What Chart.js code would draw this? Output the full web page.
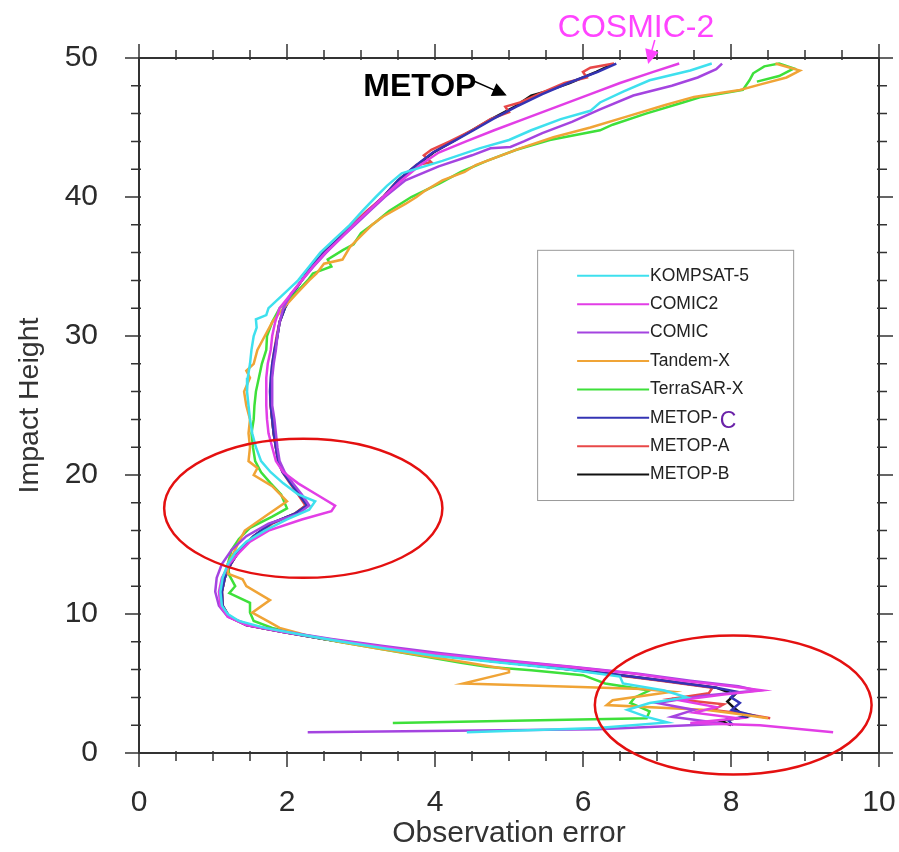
<!DOCTYPE html>
<html>
<head>
<meta charset="utf-8">
<title>Observation error by impact height</title>
<script src="https://cdn.jsdelivr.net/npm/chart.js@4.4.0/dist/chart.umd.min.js"></script>
<style>
  html, body { margin: 0; padding: 0; background: #fff; }
</style>
</head>
<body>
<canvas id="errChart" width="899" height="852"></canvas>
<script>
// observation error (x) against impact height (y, km) for each mission
var kompErr = [7.74, 7.45, 6.9, 6.55, 6.23, 6.1, 5.7, 5.3, 5.0, 4.6, 4.1, 3.55, 3.35, 3.2, 3.02, 2.85, 2.65, 2.45, 2.3, 2.15, 1.95, 1.75, 1.72, 1.58, 1.59, 1.55, 1.52, 1.5, 1.47, 1.46, 1.48, 1.5, 1.53, 1.58, 1.65, 1.78, 1.95, 2.15, 2.38, 2.3, 2.0, 1.7, 1.45, 1.3, 1.2, 1.13, 1.1, 1.12, 1.2, 1.35, 1.7, 2.2, 2.75, 3.35, 4.0, 4.9, 5.8, 6.5, 6.54, 7.1, 7.4, 6.9, 6.6, 6.86, 7.14, 6.2, 4.43];
var kompHgt = [49.6, 49.1, 48.4, 47.6, 46.8, 46.2, 45.6, 44.8, 44.1, 43.5, 42.6, 41.7, 40.8, 40.0, 39.0, 38.0, 37.0, 36.0, 35.0, 34.0, 33.0, 32.0, 31.5, 31.2, 30.6, 30.0, 29.0, 28.0, 27.0, 26.0, 25.0, 24.0, 23.0, 22.0, 21.0, 20.2, 19.4, 18.6, 18.1, 17.5, 16.8, 16.0, 15.2, 14.4, 13.6, 12.6, 11.6, 10.6, 10.0, 9.5, 9.0, 8.5, 8.0, 7.5, 7.0, 6.5, 6.0, 5.5, 5.0, 4.5, 4.0, 3.6, 3.1, 2.6, 2.2, 1.8, 1.5];

var comic2Err = [7.3, 6.95, 6.5, 6.1, 5.65, 5.2, 4.8, 4.42, 4.05, 3.8, 3.55, 3.3, 3.1, 2.9, 2.72, 2.52, 2.35, 2.2, 2.05, 1.9, 1.84, 1.8, 1.78, 1.74, 1.72, 1.72, 1.72, 1.73, 1.75, 1.8, 1.85, 1.95, 2.15, 2.4, 2.65, 2.6, 2.2, 1.75, 1.5, 1.35, 1.22, 1.12, 1.08, 1.1, 1.2, 1.45, 1.95, 2.55, 3.2, 3.9, 4.8, 5.8, 6.7, 7.35, 8.0, 8.42, 7.9, 7.3, 7.8, 7.5, 8.1, 7.45, 8.39, 9.38];
var comic2Hgt = [49.6, 49.0, 48.2, 47.4, 46.5, 45.6, 44.8, 44.0, 43.2, 42.3, 41.2, 40.0, 39.0, 38.0, 37.0, 36.0, 35.0, 34.0, 33.0, 32.0, 31.0, 30.0, 29.0, 28.0, 27.0, 26.0, 25.0, 24.0, 23.0, 22.0, 21.0, 20.2, 19.4, 18.6, 17.8, 17.4, 16.8, 16.0, 15.2, 14.4, 13.6, 12.6, 11.6, 10.6, 9.8, 9.2, 8.7, 8.2, 7.7, 7.2, 6.7, 6.2, 5.7, 5.2, 4.8, 4.5, 4.2, 3.8, 3.3, 2.9, 2.5, 2.15, 2.0, 1.5];

var comicErr = [7.88, 7.8, 7.55, 7.2, 6.68, 6.23, 5.85, 5.45, 5.2, 5.02, 4.75, 4.5, 4.05, 3.6, 3.32, 3.12, 2.92, 2.72, 2.53, 2.36, 2.2, 2.05, 1.95, 1.9, 1.87, 1.85, 1.82, 1.8, 1.8, 1.8, 1.83, 1.85, 1.87, 1.9, 1.97, 2.08, 2.2, 2.3, 2.15, 1.75, 1.45, 1.25, 1.12, 1.05, 1.03, 1.08, 1.2, 1.5, 2.0, 2.6, 3.3, 4.05, 4.9, 5.85, 6.75, 7.45, 8.1, 8.35, 7.6, 7.0, 7.5, 7.2, 7.9, 6.2, 2.28];
var comicHgt = [49.6, 49.2, 48.6, 48.0, 47.3, 46.3, 45.4, 44.6, 44.0, 43.6, 43.5, 43.0, 42.2, 41.2, 40.0, 39.0, 38.0, 37.0, 36.0, 35.0, 34.0, 33.0, 32.0, 31.0, 30.0, 29.0, 28.0, 27.0, 26.0, 25.0, 24.0, 23.0, 22.0, 21.0, 20.2, 19.4, 18.6, 17.8, 17.2, 16.5, 15.6, 14.6, 13.6, 12.6, 11.6, 10.6, 9.8, 9.2, 8.7, 8.2, 7.7, 7.2, 6.7, 6.2, 5.7, 5.2, 4.8, 4.5, 4.1, 3.6, 3.1, 2.6, 2.1, 1.7, 1.5];

var tandemErr = [8.6, 8.93, 8.75, 8.4, 8.12, 7.5, 7.1, 6.6, 6.1, 5.6, 5.15, 4.8, 4.55, 4.4, 4.1, 3.85, 3.75, 3.6, 3.3, 3.15, 3.0, 2.85, 2.75, 2.5, 2.4, 2.3, 2.12, 1.95, 1.8, 1.7, 1.6, 1.55, 1.45, 1.5, 1.42, 1.45, 1.5, 1.48, 1.5, 1.48, 1.6, 1.55, 1.8, 2.0, 1.75, 1.43, 1.35, 1.28, 1.2, 1.2, 1.4, 1.45, 1.77, 1.53, 1.77, 1.9, 2.25, 2.7, 3.25, 3.85, 4.45, 5.0, 5.0, 4.38, 5.96, 6.8, 7.2, 6.4, 6.32, 7.68, 8.1, 8.5];
var tandemHgt = [49.6, 49.1, 48.6, 48.1, 47.7, 47.2, 46.6, 45.8, 45.0, 44.3, 43.5, 42.8, 42.3, 41.8, 41.2, 40.4, 40.0, 39.5, 38.6, 38.0, 37.2, 36.4, 35.5, 35.2, 34.5, 34.0, 33.0, 32.0, 31.0, 30.0, 29.0, 28.0, 27.5, 27.0, 26.0, 25.0, 24.0, 23.0, 22.0, 21.0, 20.5, 20.0, 19.2, 18.1, 17.2, 16.0, 15.2, 14.4, 13.6, 12.9, 12.5, 12.0, 11.0, 10.1, 9.4, 9.0, 8.5, 8.0, 7.5, 7.0, 6.5, 6.0, 5.8, 5.0, 4.75, 4.6, 4.4, 3.8, 3.45, 3.1, 2.8, 2.5];

var terraErr = [8.35, 8.65, 8.85, 8.65, 8.45, 8.3, 8.25, 8.16, 7.6, 7.35, 6.85, 6.4, 6.23, 5.55, 5.1, 4.7, 4.35, 4.07, 3.68, 3.38, 3.2, 3.0, 2.9, 2.76, 2.55, 2.6, 2.35, 2.28, 2.1, 1.9, 1.8, 1.73, 1.72, 1.66, 1.62, 1.58, 1.56, 1.55, 1.52, 1.54, 1.57, 1.65, 1.78, 1.92, 2.0, 1.8, 1.5, 1.35, 1.25, 1.2, 1.22, 1.3, 1.22, 1.5, 1.5, 1.55, 1.8, 2.2, 2.7, 3.25, 3.8, 4.35, 4.7, 5.3, 6.0, 6.3, 6.9, 6.7, 6.64, 6.9, 6.86, 3.43];
var terraHgt = [48.3, 48.7, 49.25, 49.6, 49.4, 48.9, 48.4, 47.7, 47.2, 46.8, 46.0, 45.2, 44.8, 44.1, 43.4, 42.6, 41.8, 41.0, 40.0, 39.0, 38.2, 37.4, 36.6, 36.2, 35.5, 35.0, 34.5, 34.0, 33.0, 32.0, 31.0, 30.0, 29.0, 28.0, 27.0, 26.0, 25.0, 24.0, 23.0, 22.0, 21.0, 20.2, 19.4, 18.6, 17.6, 17.0, 16.2, 15.4, 14.6, 13.6, 12.8, 12.0, 11.5, 10.8, 10.1, 9.5, 9.0, 8.5, 8.0, 7.5, 7.0, 6.5, 6.2, 5.95, 5.6, 5.0, 4.5, 4.0, 3.6, 3.0, 2.5, 2.15];

var metopCErr = [6.45, 6.2, 5.8, 5.45, 5.1, 4.78, 4.52, 4.25, 3.97, 3.75, 3.5, 3.3, 3.1, 2.9, 2.7, 2.5, 2.33, 2.2, 2.07, 1.97, 1.9, 1.87, 1.83, 1.8, 1.78, 1.77, 1.78, 1.8, 1.82, 1.85, 1.88, 1.94, 2.05, 2.16, 2.27, 2.1, 1.78, 1.55, 1.36, 1.24, 1.16, 1.12, 1.13, 1.22, 1.45, 1.95, 2.5, 3.1, 3.75, 4.6, 5.5, 6.35, 7.1, 7.8, 8.08, 8.0, 8.12, 8.01, 8.3, 7.95, 8.03];
var metopCHgt = [49.6, 49.0, 48.2, 47.4, 46.5, 45.6, 44.8, 44.0, 43.2, 42.3, 41.2, 40.0, 39.0, 38.0, 37.0, 36.0, 35.0, 34.0, 33.0, 32.0, 31.0, 30.0, 29.0, 28.0, 27.0, 26.0, 25.0, 24.0, 23.0, 22.0, 21.0, 20.2, 19.4, 18.6, 17.8, 17.2, 16.5, 15.6, 14.6, 13.6, 12.6, 11.6, 10.6, 9.8, 9.2, 8.7, 8.2, 7.7, 7.2, 6.7, 6.2, 5.7, 5.2, 4.7, 4.4, 4.0, 3.6, 3.1, 2.7, 2.4, 2.0];

var metopAErr = [6.42, 6.1, 6.0, 6.05, 5.75, 5.4, 5.15, 4.95, 5.0, 4.75, 4.5, 4.2, 3.95, 3.85, 3.95, 3.75, 3.5, 3.3, 3.08, 2.88, 2.7, 2.5, 2.33, 2.2, 2.06, 1.96, 1.9, 1.86, 1.83, 1.8, 1.79, 1.78, 1.78, 1.8, 1.82, 1.85, 1.88, 1.94, 2.04, 2.15, 2.25, 2.1, 1.8, 1.55, 1.36, 1.24, 1.16, 1.12, 1.13, 1.22, 1.45, 1.95, 2.5, 3.1, 3.75, 4.6, 5.5, 6.3, 7.05, 7.75, 7.7, 7.2, 7.9, 7.76, 8.2, 8.53];
var metopAHgt = [49.6, 49.3, 49.0, 48.6, 48.2, 47.4, 46.8, 46.5, 46.1, 45.6, 44.8, 44.0, 43.4, 43.0, 42.5, 42.3, 41.2, 40.0, 39.0, 38.0, 37.0, 36.0, 35.0, 34.0, 33.0, 32.0, 31.0, 30.0, 29.0, 28.0, 27.0, 26.0, 25.0, 24.0, 23.0, 22.0, 21.0, 20.2, 19.4, 18.6, 17.8, 17.2, 16.5, 15.6, 14.6, 13.6, 12.6, 11.6, 10.6, 9.8, 9.2, 8.7, 8.2, 7.7, 7.2, 6.7, 6.2, 5.7, 5.2, 4.7, 4.3, 3.9, 3.5, 3.1, 2.8, 2.5];

var metopBErr = [6.38, 6.18, 5.82, 5.5, 5.3, 5.08, 4.76, 4.5, 4.24, 3.98, 3.76, 3.5, 3.3, 3.1, 2.9, 2.7, 2.5, 2.33, 2.2, 2.07, 1.97, 1.9, 1.87, 1.84, 1.81, 1.79, 1.78, 1.78, 1.8, 1.82, 1.85, 1.88, 1.95, 2.06, 2.17, 2.26, 2.1, 1.78, 1.55, 1.36, 1.24, 1.16, 1.12, 1.13, 1.22, 1.45, 1.95, 2.5, 3.1, 3.75, 4.6, 5.5, 6.35, 7.1, 7.8, 8.05, 7.95, 8.05, 8.2, 7.85, 8.0];
var metopBHgt = [49.5, 49.0, 48.2, 47.6, 47.3, 46.5, 45.6, 44.8, 44.0, 43.2, 42.3, 41.2, 40.0, 39.0, 38.0, 37.0, 36.0, 35.0, 34.0, 33.0, 32.0, 31.0, 30.0, 29.0, 28.0, 27.0, 26.0, 25.0, 24.0, 23.0, 22.0, 21.0, 20.2, 19.4, 18.6, 17.8, 17.2, 16.5, 15.6, 14.6, 13.6, 12.6, 11.6, 10.6, 9.8, 9.2, 8.7, 8.2, 7.7, 7.2, 6.7, 6.2, 5.7, 5.2, 4.7, 4.2, 3.7, 3.2, 2.6, 2.3, 2.0];

var names  = ["KOMPSAT-5", "COMIC2", "COMIC", "Tandem-X", "TerraSAR-X", "METOP-C", "METOP-A", "METOP-B"];
var colors = ["#3ee0ee", "#e23ee6", "#a444e0", "#f0a436", "#3ee03a", "#3434b4", "#e84848", "#111111"];
var errs = [kompErr, comic2Err, comicErr, tandemErr, terraErr, metopCErr, metopAErr, metopBErr];
var hgts = [kompHgt, comic2Hgt, comicHgt, tandemHgt, terraHgt, metopCHgt, metopAHgt, metopBHgt];

// highlighted regions (centre and half-widths in data units)
var rings = [
  { x: 2.22, y: 17.6, rx: 1.88, ry: 5.0 },
  { x: 8.03, y: 3.45, rx: 1.87, ry: 5.0 }
];

var FONT = "'Liberation Sans', Arial, Helvetica, sans-serif";

function pairs(xs, ys) {
  var out = [];
  for (var i = 0; i < xs.length; i++) out.push({ x: xs[i], y: ys[i] });
  return out;
}

var datasets = [];
for (var i = 0; i < names.length; i++) {
  datasets.push({
    label: names[i],
    data: pairs(errs[i], hgts[i]),
    showLine: true,
    borderColor: colors[i],
    backgroundColor: colors[i],
    borderWidth: 2.5,
    pointRadius: 0,
    tension: 0,
    fill: false
  });
}

function arrow(ctx, x1, y1, x2, y2, color, head) {
  var ang = Math.atan2(y2 - y1, x2 - x1);
  ctx.strokeStyle = color;
  ctx.fillStyle = color;
  ctx.lineWidth = 1.5;
  ctx.beginPath();
  ctx.moveTo(x1, y1);
  ctx.lineTo(x2 - Math.cos(ang) * head * 0.8, y2 - Math.sin(ang) * head * 0.8);
  ctx.stroke();
  ctx.beginPath();
  ctx.moveTo(x2, y2);
  ctx.lineTo(x2 - head * Math.cos(ang - 0.45), y2 - head * Math.sin(ang - 0.45));
  ctx.lineTo(x2 - head * Math.cos(ang + 0.45), y2 - head * Math.sin(ang + 0.45));
  ctx.closePath();
  ctx.fill();
}

var decor = {
  id: 'decor',
  afterDatasetsDraw: function (chart) {
    var ctx = chart.ctx, a = chart.chartArea;
    var xs = chart.scales.x, ys = chart.scales.y;
    var i, p, len;
    ctx.save();

    // frame with outward ticks on all four sides
    ctx.strokeStyle = '#333';
    ctx.lineWidth = 2;
    ctx.strokeRect(a.left, a.top, a.right - a.left, a.bottom - a.top);
    ctx.lineWidth = 1.5;
    ctx.beginPath();
    for (i = 0; i <= 20; i++) {
      p = xs.getPixelForValue(i * 0.5);
      len = (i % 4 === 0) ? 14 : 8;
      ctx.moveTo(p, a.bottom - 2); ctx.lineTo(p, a.bottom + len);
      ctx.moveTo(p, a.top + 2); ctx.lineTo(p, a.top - len);
    }
    for (i = 0; i <= 25; i++) {
      p = ys.getPixelForValue(i * 2);
      len = (i % 5 === 0) ? 14 : 8;
      ctx.moveTo(a.left + 2, p); ctx.lineTo(a.left - len, p);
      ctx.moveTo(a.right - 2, p); ctx.lineTo(a.right + len, p);
    }
    ctx.stroke();

    // legend box
    var bx1 = xs.getPixelForValue(5.38), bx2 = xs.getPixelForValue(8.84);
    var by1 = ys.getPixelForValue(36.2), by2 = ys.getPixelForValue(18.2);
    ctx.strokeStyle = '#9a9a9a';
    ctx.lineWidth = 1;
    ctx.strokeRect(bx1 + 0.5, by1 + 0.5, bx2 - bx1, by2 - by1);
    ctx.textBaseline = 'middle';
    ctx.textAlign = 'left';
    for (i = 0; i < chart.data.datasets.length; i++) {
      var ds = chart.data.datasets[i];
      var ry = by1 + 26 + i * 28.4;
      ctx.strokeStyle = ds.borderColor;
      ctx.lineWidth = 2;
      ctx.beginPath();
      ctx.moveTo(bx1 + 40, ry); ctx.lineTo(bx1 + 112, ry);
      ctx.stroke();
      ctx.fillStyle = '#222';
      ctx.font = '17.5px ' + FONT;
      if (ds.label === 'METOP-C') {
        ctx.fillText('METOP-', bx1 + 113, ry);
        var w = ctx.measureText('METOP-').width;
        ctx.fillStyle = '#6a22a8';
        ctx.font = '23px ' + FONT;
        ctx.fillText('C', bx1 + 115 + w, ry + 4);
      } else {
        ctx.fillText(ds.label, bx1 + 113, ry);
      }
    }

    // red rings
    ctx.strokeStyle = '#e41010';
    ctx.lineWidth = 2.5;
    rings.forEach(function (r) {
      var cx = xs.getPixelForValue(r.x), cy = ys.getPixelForValue(r.y);
      var rxp = xs.getPixelForValue(r.x + r.rx) - cx;
      var ryp = cy - ys.getPixelForValue(r.y + r.ry);
      ctx.beginPath();
      ctx.ellipse(cx, cy, rxp, ryp, 0, 0, Math.PI * 2);
      ctx.stroke();
    });

    // mission call-outs
    ctx.textBaseline = 'alphabetic';
    ctx.fillStyle = '#ff44ff';
    ctx.font = '32px ' + FONT;
    ctx.fillText('COSMIC-2', xs.getPixelForValue(5.66), ys.getPixelForValue(51.5));
    arrow(ctx, xs.getPixelForValue(6.97), ys.getPixelForValue(51.3),
      xs.getPixelForValue(6.88), ys.getPixelForValue(49.57), '#ff44ff', 16);

    ctx.fillStyle = '#000';
    ctx.font = 'bold 32px ' + FONT;
    ctx.fillText('METOP', xs.getPixelForValue(3.03), ys.getPixelForValue(47.3));
    arrow(ctx, xs.getPixelForValue(4.5), ys.getPixelForValue(48.4),
      xs.getPixelForValue(4.97), ys.getPixelForValue(47.3), '#000', 16);

    ctx.restore();
  }
};

new Chart(document.getElementById('errChart'), {
  type: 'scatter',
  data: { datasets: datasets },
  options: {
    responsive: false,
    animation: false,
    layout: { padding: { top: 58, right: 20, bottom: 0, left: 0 } },
    plugins: {
      legend: { display: false },
      tooltip: { enabled: false }
    },
    scales: {
      x: {
        type: 'linear',
        min: 0,
        max: 10,
        afterFit: function (s) {
          s.height = 99;
          s.paddingLeft = 0;
          s.paddingRight = 0;
        },
        grid: { display: false, drawTicks: false },
        border: { display: false },
        ticks: { stepSize: 2, padding: 32, color: '#2b2b2b', font: { family: FONT, size: 30 } },
        title: {
          display: true,
          text: 'Observation error',
          color: '#333',
          font: { family: FONT, size: 30 },
          padding: { top: 0, bottom: 0 }
        }
      },
      y: {
        type: 'linear',
        min: 0,
        max: 50,
        afterFit: function (s) {
          s.width = 139;
          s.paddingTop = 0;
          s.paddingBottom = 0;
        },
        grid: { display: false, drawTicks: false },
        border: { display: false },
        ticks: { stepSize: 10, padding: 41, color: '#2b2b2b', font: { family: FONT, size: 30 } },
        title: {
          display: true,
          text: 'Impact Height',
          color: '#333',
          font: { family: FONT, size: 28.5 },
          padding: { top: 13, bottom: 0 }
        }
      }
    }
  },
  plugins: [decor]
});
</script>
</body>
</html>
